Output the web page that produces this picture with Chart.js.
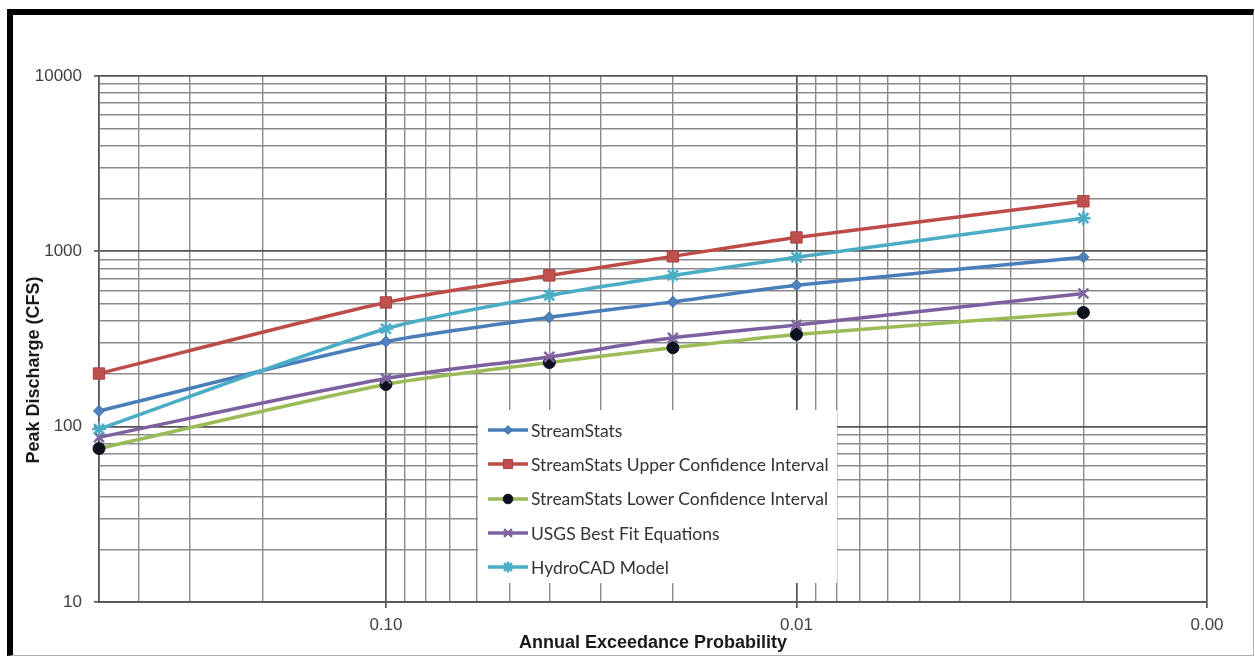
<!DOCTYPE html>
<html>
<head>
<meta charset="utf-8">
<script src="https://cdn.jsdelivr.net/npm/chart.js@4.4.1/dist/chart.umd.min.js"></script>
<style>
  html, body { margin: 0; padding: 0; background: #fff; }
  #wrap { position: relative; width: 1255px; height: 656px; overflow: hidden; background: #fff; }
  #frame {
    position: absolute; left: 7px; top: 9px; width: 1247px; height: 647px;
    box-sizing: border-box;
    border-left: 6px solid #000; border-top: 6px solid #000;
    border-right: 1px solid #b0b0b0; border-bottom: 1px solid #b0b0b0;
  }
  #c { position: absolute; left: 0; top: 0; }
  #legend {
    position: absolute; left: 478px; top: 410px; width: 359px; height: 173px;
    background: #fff; box-sizing: border-box; padding-top: 3px;
  }
  .row { display: flex; align-items: center; height: 34.3px; padding-left: 10px; }
  .row canvas { width: 40px; height: 20px; flex: none; }
  .row span { font-family: Lato, "Open Sans", sans-serif; font-size: 17.5px; color: #333; margin-left: 3px; white-space: nowrap; }
</style>
</head>
<body>
<div id="wrap">
  <div id="frame"></div>
  <canvas id="c" width="1255" height="656"></canvas>
  <div id="legend"></div>
</div>
<script>
// Annual exceedance probabilities (2-, 10-, 25-, 50-, 100-, 500-year events)
const probabilities = [0.5, 0.1, 0.04, 0.02, 0.01, 0.002];

// Peak discharge, CFS
const streamStats      = [123, 305, 420, 515, 640, 925];
const upperConfidence  = [201, 511, 729, 936, 1200, 1930];
const lowerConfidence  = [75, 174, 232, 282, 336, 448];
const usgsBestFit      = [87, 188, 250, 321, 380, 575];
const hydroCAD         = [97, 362, 561, 729, 924, 1545];

const seriesNames = [
  'StreamStats',
  'StreamStats Upper Confidence Interval',
  'StreamStats Lower Confidence Interval',
  'USGS Best Fit Equations',
  'HydroCAD Model'
];

// Axis ranges and labelled ticks
const xMin = 0.001, xMax = 0.5;
const xTickValues = [0.1, 0.01, 0.001];
const xTickLabels = ['0.10', '0.01', '0.00'];
const yMin = 10, yMax = 10000;
const yTickValues = [10, 100, 1000, 10000];
const yTickLabels = ['10', '100', '1000', '10000'];

const xTitle = 'Annual Exceedance Probability';
const yTitle = 'Peak Discharge (CFS)';

const TICK_FONT = '"Liberation Sans", Arial, sans-serif';

function isPow10(v) {
  const l = Math.log10(v);
  return Math.abs(l - Math.round(l)) < 1e-9;
}
// 1..9 x 10^e grid values inside [lo, hi]
function logGrid(lo, hi) {
  const out = [];
  const e0 = Math.floor(Math.log10(lo) + 1e-9), e1 = Math.ceil(Math.log10(hi) - 1e-9);
  for (let e = e0; e <= e1; e++) {
    for (let k = 1; k <= 9; k++) {
      const v = Number((k * Math.pow(10, e)).toPrecision(6));
      if (v >= lo - 1e-12 && v <= hi + 1e-12) out.push(v);
    }
  }
  if (!out.some(v => Math.abs(v - hi) < 1e-12)) out.push(hi);
  return out;
}
function labelFor(values, labels, v) {
  const i = values.findIndex(t => Math.abs(t - v) / t < 1e-6);
  return i >= 0 ? labels[i] : '';
}
function toPoints(ys) { return probabilities.map((p, i) => ({ x: p, y: ys[i] })); }

const styles = [
  { data: streamStats,     line: '#4A7EBB', pointStyle: 'rectRot',  radius: 5.5, fill: '#4F81BD', stroke: '#3A6AA5', bw: 1 },
  { data: upperConfidence, line: '#BE4B48', pointStyle: 'rect',     radius: 8,   fill: '#C0504D', stroke: '#A83F3C', bw: 1 },
  { data: lowerConfidence, line: '#9BBB59', pointStyle: 'circle',   radius: 6,   fill: '#0E1220', stroke: '#0E1220', bw: 1 },
  { data: usgsBestFit,     line: '#7D60A0', pointStyle: 'crossRot', radius: 7,   fill: '#8064A2', stroke: '#8064A2', bw: 2.5 },
  { data: hydroCAD,        line: '#4BACC6', pointStyle: 'star',     radius: 7,   fill: '#4BACC6', stroke: '#4BACC6', bw: 2.5 }
];

const datasets = styles.map((s, i) => ({
  label: seriesNames[i],
  data: toPoints(s.data),
  borderColor: s.line,
  backgroundColor: s.line,
  borderWidth: 3.5,
  tension: 0.25,
  pointStyle: s.pointStyle,
  pointRadius: s.radius,
  pointBackgroundColor: s.fill,
  pointBorderColor: s.stroke,
  pointBorderWidth: s.bw,
  clip: false,
  order: styles.length - i
}));

const gridColor = ctx => (ctx.tick && isPow10(ctx.tick.value)) ? '#555' : '#8a8a8a';
const gridWidth = ctx => (ctx.tick && isPow10(ctx.tick.value)) ? 1.7 : 1.4;
const tickColor = ctx => (ctx.tick && isPow10(ctx.tick.value)) ? '#555' : 'rgba(0,0,0,0)';

const yTitlePlugin = {
  id: 'yTitle',
  afterDraw(chart) {
    const { ctx, chartArea: a } = chart;
    ctx.save();
    ctx.translate(a.left - 65, a.top + (a.bottom - a.top) * 0.559);
    ctx.rotate(-Math.PI / 2);
    ctx.font = 'bold 18px ' + TICK_FONT;
    ctx.fillStyle = '#1a1a1a';
    ctx.textAlign = 'center';
    ctx.textBaseline = 'middle';
    ctx.fillText(yTitle, 0, 0);
    ctx.restore();
  }
};

const chart = new Chart(document.getElementById('c'), {
  type: 'line',
  data: { datasets },
  options: {
    responsive: false,
    animation: false,
    devicePixelRatio: 1,
    layout: { padding: { left: 14, top: 76, right: 48, bottom: 0 } },
    plugins: { legend: { display: false }, tooltip: { enabled: false } },
    scales: {
      x: {
        type: 'logarithmic',
        reverse: true,
        min: xMin, max: xMax,
        afterBuildTicks: s => { s.ticks = logGrid(xMin, xMax).map(v => ({ value: v })); },
        afterFit: s => { s.height = 54; },
        ticks: {
          autoSkip: false, maxRotation: 0, padding: 7,
          color: '#404040', font: { family: TICK_FONT, size: 17 },
          callback: v => labelFor(xTickValues, xTickLabels, v)
        },
        grid: { color: gridColor, lineWidth: gridWidth, tickColor, tickLength: 6, tickWidth: 1.7 },
        border: { color: '#555', width: 1.7 },
        title: {
          display: true, text: xTitle, color: '#1a1a1a',
          font: { family: TICK_FONT, size: 18, weight: 'bold' },
          padding: { top: 0, bottom: 2 }
        }
      },
      y: {
        type: 'logarithmic',
        min: yMin, max: yMax,
        afterBuildTicks: s => { s.ticks = logGrid(yMin, yMax).map(v => ({ value: v })); },
        afterFit: s => { s.width = 85; },
        ticks: {
          autoSkip: false, padding: 12,
          color: '#404040', font: { family: TICK_FONT, size: 17 },
          callback: v => labelFor(yTickValues, yTickLabels, v)
        },
        grid: { color: gridColor, lineWidth: gridWidth, tickColor, tickLength: 5, tickWidth: 1.7 },
        border: { color: '#555', width: 1.7 }
      }
    }
  },
  plugins: [yTitlePlugin]
});

// Legend: line sample with the series marker, then the series name
const legend = document.getElementById('legend');
styles.forEach((s, i) => {
  const row = document.createElement('div');
  row.className = 'row';
  const cv = document.createElement('canvas');
  cv.width = 40; cv.height = 20;
  const g = cv.getContext('2d');
  g.strokeStyle = s.line; g.lineWidth = 3.5;
  g.beginPath(); g.moveTo(0, 10); g.lineTo(40, 10); g.stroke();
  g.fillStyle = s.fill; g.strokeStyle = s.stroke; g.lineWidth = s.bw;
  if (Chart.helpers && Chart.helpers.drawPoint) {
    Chart.helpers.drawPoint(g, { pointStyle: s.pointStyle, radius: s.radius * 0.8, rotation: 0, borderWidth: s.bw }, 20, 10);
  } else {
    g.beginPath(); g.arc(20, 10, 4, 0, Math.PI * 2); g.fill();
  }
  const label = document.createElement('span');
  label.textContent = seriesNames[i];
  row.appendChild(cv);
  row.appendChild(label);
  legend.appendChild(row);
});
</script>
</body>
</html>
